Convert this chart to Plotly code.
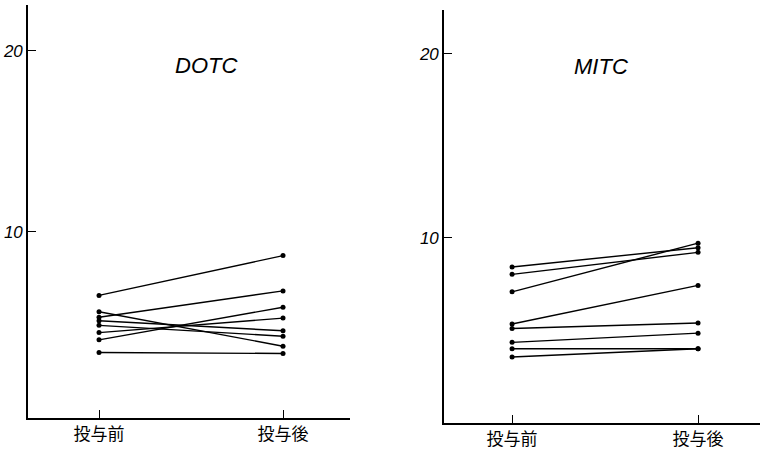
import plotly.graph_objects as go

# Values before / after administration for each subject
categories = ["投与前", "投与後"]

dotc_pre = [6.5, 5.3, 5.6, 4.05, 4.45, 5.1, 4.85, 3.35]
dotc_post = [8.7, 6.75, 3.7, 5.85, 5.25, 4.55, 4.25, 3.3]

mitc_pre = [8.4, 8.0, 7.05, 5.3, 5.05, 4.3, 3.95, 3.5]
mitc_post = [9.45, 9.2, 9.7, 7.4, 5.35, 4.8, 3.95, 3.95]

panel_titles = ["DOTC", "MITC"]
y_ticks = [10, 20]

W, H = 760, 449


def px_x(p):
    return p / W


def px_y(p):
    return 1 - p / H


fig = go.Figure()

panels = [
    (dotc_pre, dotc_post, "x", "y"),
    (mitc_pre, mitc_post, "x2", "y2"),
]
for pre, post, xa, ya in panels:
    for a, b in zip(pre, post):
        fig.add_trace(go.Scatter(
            x=[0, 1], y=[a, b], xaxis=xa, yaxis=ya,
            mode="lines+markers",
            line=dict(color="black", width=1.4),
            marker=dict(color="black", size=5),
            showlegend=False, hoverinfo="skip",
        ))

axis_common = dict(
    showgrid=False, zeroline=False, showline=True,
    linecolor="black", linewidth=1.6,
    ticks="inside", tickcolor="black", tickwidth=1.3, ticklen=8,
)
x_tick_font = dict(family="Noto Sans CJK JP", size=17, color="black")
y_tick_font = dict(family="Liberation Sans", size=17, color="black", style="italic")

fig.update_layout(
    width=W, height=H,
    margin=dict(l=0, r=0, t=0, b=0),
    paper_bgcolor="white", plot_bgcolor="white",
    xaxis=dict(**axis_common, domain=[px_x(28), px_x(350)], anchor="y",
               range=[-0.386, 1.364], tickvals=[0, 1], ticktext=categories,
               tickfont=x_tick_font),
    yaxis=dict(**axis_common, domain=[px_y(418), px_y(5)], anchor="x",
               range=[-0.26, 22.52], tickvals=y_ticks, tickfont=y_tick_font),
    xaxis2=dict(**axis_common, domain=[px_x(444), px_x(760)], anchor="y2",
                range=[-0.366, 1.333], tickvals=[0, 1], ticktext=categories,
                tickfont=x_tick_font),
    yaxis2=dict(**axis_common, domain=[px_y(423), px_y(10)], anchor="x2",
                range=[-0.09, 22.39], tickvals=y_ticks, tickfont=y_tick_font),
)

title_font = dict(family="Liberation Sans", size=22, color="black", style="italic")
fig.add_annotation(text=panel_titles[0], x=0.58, y=19.2, xref="x", yref="y",
                   showarrow=False, font=title_font)
fig.add_annotation(text=panel_titles[1], x=0.48, y=19.3, xref="x2", yref="y2",
                   showarrow=False, font=title_font)

fig.write_html("out.html")
